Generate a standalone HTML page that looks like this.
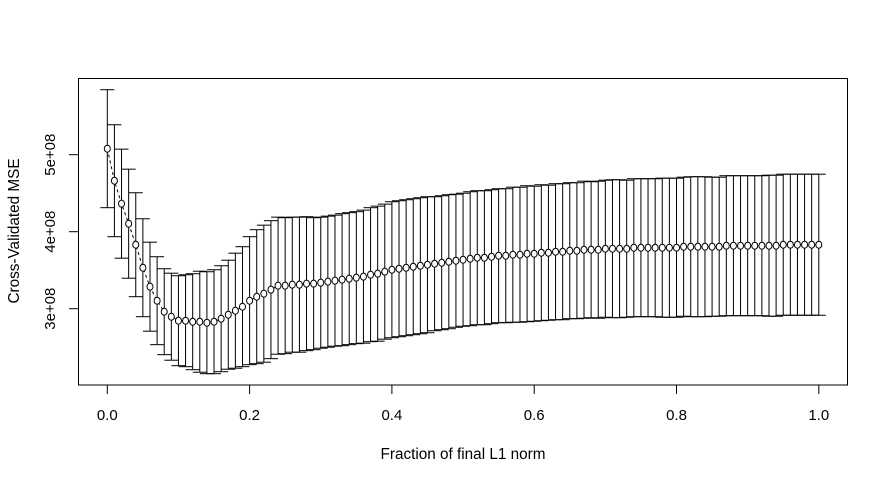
<!DOCTYPE html>
<html><head><meta charset="utf-8"><style>
body{margin:0;background:#fff}
svg{display:block;font-family:"Liberation Sans",sans-serif}
</style></head><body>
<svg id="chart" width="888" height="483" viewBox="0 0 888 483" xmlns="http://www.w3.org/2000/svg">
<rect x="0" y="0" width="888" height="483" fill="#fff"/>
<rect x="78.5" y="78.5" width="769" height="306.5" fill="none" stroke="#000" stroke-width="1"/>
<g id="xaxis"></g>
<g id="yaxis"></g>
<g id="series"></g>
<text x="463" y="459" font-size="15.3" text-anchor="middle">Fraction of final L1 norm</text>
<text transform="translate(19,231) rotate(-90)" font-size="15.3" text-anchor="middle">Cross-Validated MSE</text>
</svg>
<script>
// mean CV MSE (units of 1e8) at fraction = 0, 0.01, ..., 1.00
const cvMean = [
5.078,4.662,4.364,4.104,3.831,3.532,3.286,3.104,2.961,2.896,
2.844,2.844,2.831,2.831,2.818,2.831,2.870,2.922,2.974,3.026,
3.104,3.156,3.195,3.247,3.299,3.299,3.312,3.312,3.325,3.325,
3.338,3.351,3.364,3.377,3.390,3.403,3.416,3.442,3.455,3.481,
3.506,3.519,3.532,3.545,3.558,3.571,3.584,3.597,3.610,3.623,
3.636,3.649,3.662,3.662,3.675,3.688,3.688,3.701,3.701,3.714,
3.714,3.727,3.727,3.740,3.740,3.753,3.753,3.766,3.766,3.766,
3.779,3.779,3.779,3.779,3.792,3.792,3.792,3.792,3.792,3.792,
3.792,3.805,3.805,3.805,3.805,3.805,3.805,3.818,3.818,3.818,
3.818,3.818,3.818,3.818,3.818,3.831,3.831,3.831,3.831,3.831,3.831];
// CV standard error (units of 1e8)
const cvErr = [
0.766,0.727,0.708,0.708,0.675,0.636,0.578,0.571,0.558,0.565,
0.584,0.597,0.623,0.656,0.662,0.675,0.688,0.708,0.747,0.779,
0.831,0.870,0.890,0.896,0.890,0.883,0.877,0.877,0.870,0.857,
0.851,0.851,0.851,0.857,0.857,0.857,0.864,0.870,0.877,0.877,
0.883,0.883,0.883,0.883,0.883,0.883,0.870,0.870,0.870,0.864,
0.864,0.870,0.870,0.870,0.870,0.870,0.870,0.877,0.877,0.883,
0.877,0.883,0.877,0.883,0.883,0.883,0.883,0.890,0.883,0.890,
0.890,0.896,0.896,0.890,0.896,0.896,0.896,0.896,0.903,0.903,
0.903,0.903,0.909,0.909,0.909,0.903,0.903,0.909,0.909,0.909,
0.909,0.909,0.909,0.916,0.916,0.916,0.916,0.916,0.916,0.916,0.916];
const xTicks = [0,0.2,0.4,0.6,0.8,1.0];
const xTickLabels = ["0.0","0.2","0.4","0.6","0.8","1.0"];
const yTicks = [3,4,5];
const yTickLabels = ["3e+08","4e+08","5e+08"];

const NS='http://www.w3.org/2000/svg';
function X(f){return 107.3+f*711.5;}
function Y(v){return 154.7-(v-5)*77;}
function mk(tag,attrs,parent){const e=document.createElementNS(NS,tag);for(const k in attrs)e.setAttribute(k,attrs[k]);parent.appendChild(e);return e;}
const xa=document.getElementById('xaxis'), ya=document.getElementById('yaxis'), sg=document.getElementById('series');
xTicks.forEach((t,i)=>{
  const l=mk('line',{x1:X(t),x2:X(t),y1:385,y2:394,stroke:'#000'},xa);
  
  
  const tx=mk('text',{x:X(t),y:420,'font-size':15,'text-anchor':'middle'},xa);
  tx.textContent=xTickLabels[i];
  
  
});
yTicks.forEach((t,i)=>{
  const l=mk('line',{x1:69,x2:78.5,y1:Y(t),y2:Y(t),stroke:'#000'},ya);
  
  
  const tx=mk('text',{transform:`translate(55,${Y(t)}) rotate(-90)`,'font-size':15,'text-anchor':'middle'},ya);
  tx.textContent=yTickLabels[i];
  
  
});
const n=cvMean.length;
const fr=cvMean.map((_,i)=>i/(n-1));
cvMean.forEach((m,i)=>{
  const x=X(fr[i]), up=Y(m+cvErr[i]), lo=Y(m-cvErr[i]);
  const g=mk('g',{stroke:'#000','stroke-width':1},sg);
  
  
  mk('line',{x1:x,x2:x,y1:up,y2:lo},g);
  mk('line',{x1:x-7,x2:x+7,y1:up,y2:up},g);
  mk('line',{x1:x-7,x2:x+7,y1:lo,y2:lo},g);
});
const pl=mk('polyline',{points:cvMean.map((m,i)=>X(fr[i])+','+Y(m)).join(' '),fill:'none',stroke:'#000','stroke-dasharray':'3,3'},sg);


cvMean.forEach((m,i)=>{
  const c=mk('ellipse',{cx:X(fr[i]),cy:Y(m),rx:3,ry:3.5,fill:'#fff',stroke:'#000'},sg);
  
  
});
</script>
</body></html>
